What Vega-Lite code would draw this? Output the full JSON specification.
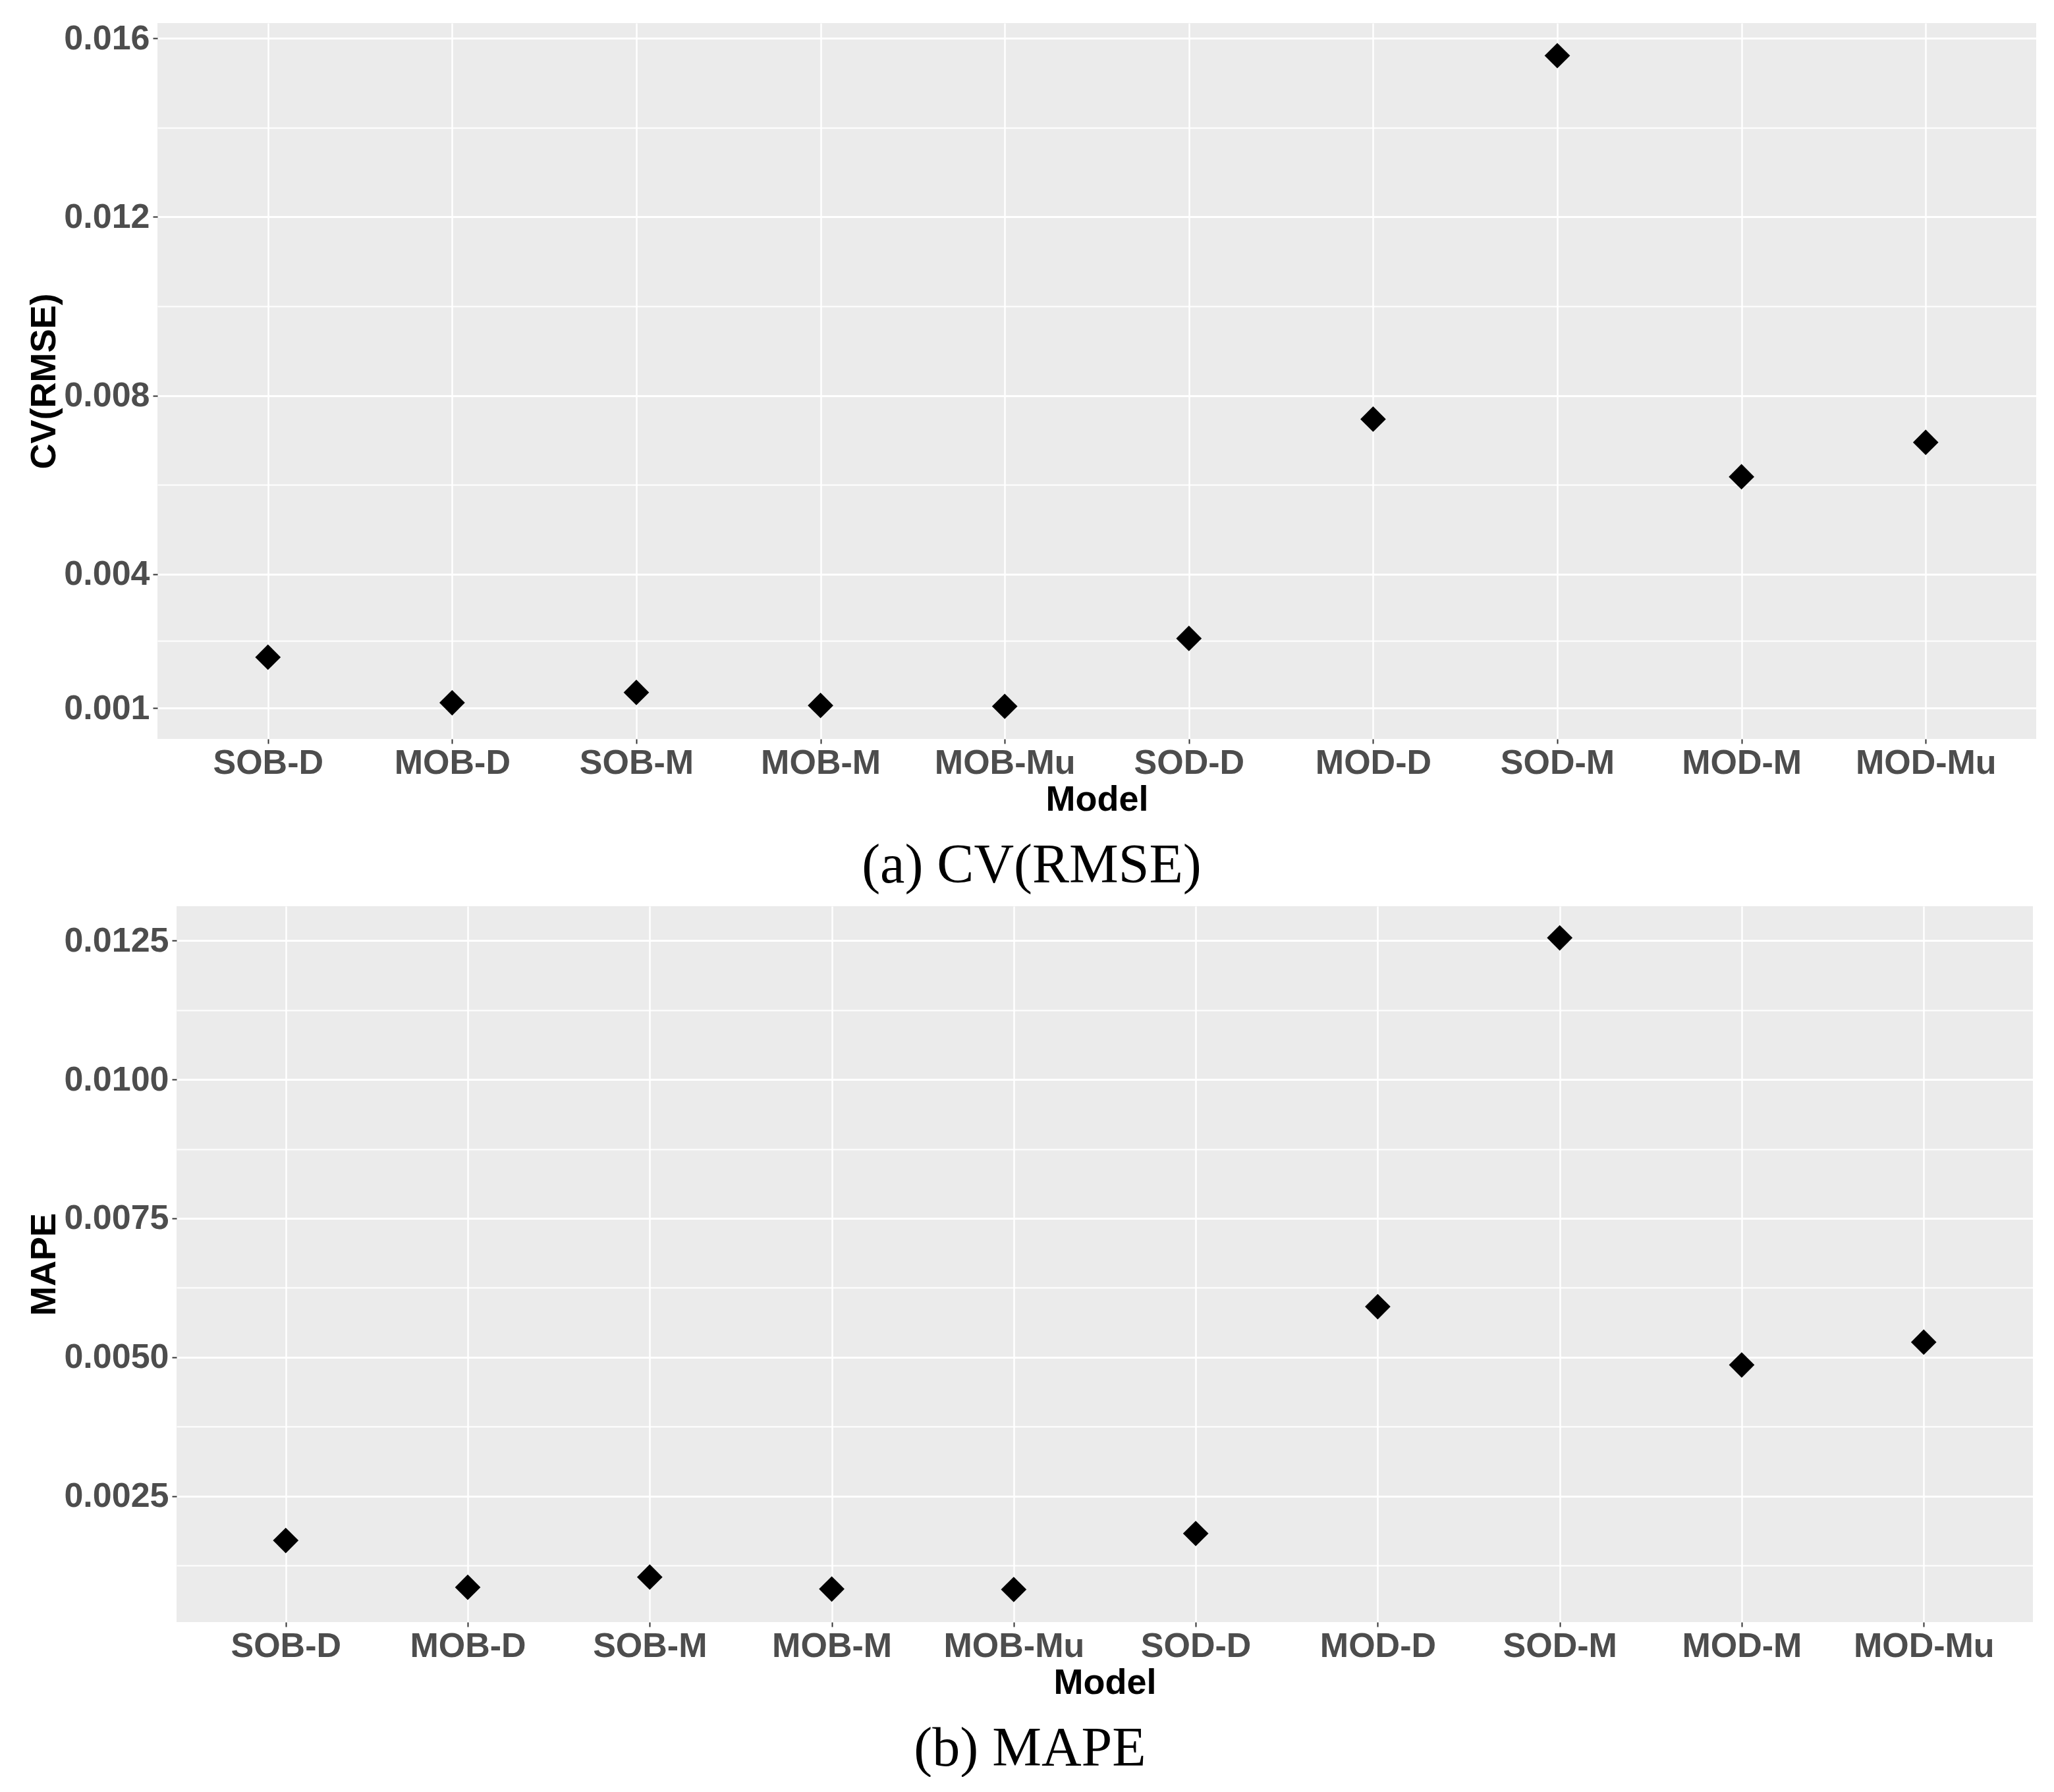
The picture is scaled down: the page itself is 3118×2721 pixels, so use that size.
{
  "$schema": "https://vega.github.io/schema/vega-lite/v6.json",
  "background": "white",
  "padding": {"left": 39, "top": 32, "right": 0, "bottom": 0},
  "config": {
    "view": {"fill": "#EBEBEB", "stroke": null},
    "axis": {
      "domain": false,
      "labelFont": "Liberation Sans",
      "labelFontWeight": "bold",
      "labelFontSize": 52,
      "labelColor": "#4D4D4D",
      "labelLimit": 1000,
      "titleFont": "Liberation Sans",
      "titleFontWeight": "bold",
      "titleFontSize": 54,
      "titleColor": "#000000",
      "tickColor": "#333333",
      "tickSize": 7,
      "tickWidth": 2,
      "grid": true,
      "gridColor": "#FFFFFF",
      "gridOpacity": 1,
      "labelOverlap": false,
      "labelFlush": false
    },
    "axisX": {"labelPadding": 4, "titlePadding": 3, "labelAngle": 0, "gridWidth": 2.5},
    "axisY": {"labelPadding": 5, "titlePadding": 2},
    "title": {
      "font": "Liberation Serif",
      "fontSize": 84,
      "fontWeight": "normal",
      "color": "#000000",
      "orient": "bottom",
      "anchor": "middle",
      "frame": "bounds",
      "offset": 33
    }
  },
  "datasets": {
    "cv": [
      {"Model": "SOB-D", "value": 0.00214},
      {"Model": "MOB-D", "value": 0.00112},
      {"Model": "SOB-M", "value": 0.00135},
      {"Model": "MOB-M", "value": 0.00106},
      {"Model": "MOB-Mu", "value": 0.00104},
      {"Model": "SOD-D", "value": 0.00256},
      {"Model": "MOD-D", "value": 0.00747},
      {"Model": "SOD-M", "value": 0.01561},
      {"Model": "MOD-M", "value": 0.00618},
      {"Model": "MOD-Mu", "value": 0.00695}
    ],
    "mape": [
      {"Model": "SOB-D", "value": 0.0017},
      {"Model": "MOB-D", "value": 0.000857},
      {"Model": "SOB-M", "value": 0.00104},
      {"Model": "MOB-M", "value": 0.000825},
      {"Model": "MOB-Mu", "value": 0.000817},
      {"Model": "SOD-D", "value": 0.001825},
      {"Model": "MOD-D", "value": 0.00591},
      {"Model": "SOD-M", "value": 0.01255},
      {"Model": "MOD-M", "value": 0.00486},
      {"Model": "MOD-Mu", "value": 0.00527}
    ],
    "empty": []
  },
  "spacing": 19,
  "bounds": "full",
  "vconcat": [
    {
      "spacing": 0,
      "hconcat": [
        {
          "width": 1,
          "height": 1,
          "view": {"fill": null, "stroke": null},
          "data": {"name": "empty"},
          "mark": "point"
        },
        {
          "width": 2852,
          "height": 1087,
          "data": {"name": "cv"},
          "title": {"text": "(a) CV(RMSE)"},
          "mark": {"type": "point", "shape": "diamond", "filled": true, "color": "#000000", "opacity": 1, "size": 1500},
          "encoding": {
            "x": {
              "field": "Model",
              "type": "nominal",
              "sort": null,
              "scale": {"type": "point", "padding": 0.6},
              "axis": {"title": "Model"}
            },
            "y": {
              "field": "value",
              "type": "quantitative",
              "scale": {"domain": [0.00031, 0.01634], "nice": false, "zero": false},
              "axis": {
                "title": "CV(RMSE)",
                "values": [0.001, 0.0025, 0.004, 0.006, 0.008, 0.01, 0.012, 0.014, 0.016],
                "labelExpr": "indexof([0.001, 0.004, 0.008, 0.012, 0.016], datum.value) >= 0 ? format(datum.value, '.3f') : ''",
                "tickOpacity": {"condition": {"test": "indexof([0.001, 0.004, 0.008, 0.012, 0.016], datum.value) >= 0", "value": 1}, "value": 0},
                "gridWidth": {"condition": {"test": "indexof([0.001, 0.004, 0.008, 0.012, 0.016], datum.value) >= 0", "value": 3}, "value": 1.8}
              }
            }
          }
        }
      ]
    },
    {
      "spacing": 0,
      "hconcat": [
        {
          "width": 1,
          "height": 1,
          "view": {"fill": null, "stroke": null},
          "data": {"name": "empty"},
          "mark": "point"
        },
        {
          "width": 2818,
          "height": 1087,
          "data": {"name": "mape"},
          "title": {"text": "(b) MAPE"},
          "mark": {"type": "point", "shape": "diamond", "filled": true, "color": "#000000", "opacity": 1, "size": 1500},
          "encoding": {
            "x": {
              "field": "Model",
              "type": "nominal",
              "sort": null,
              "scale": {"type": "point", "padding": 0.6},
              "axis": {"title": "Model"}
            },
            "y": {
              "field": "value",
              "type": "quantitative",
              "scale": {"domain": [0.00023, 0.01312], "nice": false, "zero": false},
              "axis": {
                "title": "MAPE",
                "values": [0.00125, 0.0025, 0.00375, 0.005, 0.00625, 0.0075, 0.00875, 0.01, 0.01125, 0.0125],
                "labelExpr": "indexof([0.0025, 0.005, 0.0075, 0.01, 0.0125], datum.value) >= 0 ? format(datum.value, '.4f') : ''",
                "tickOpacity": {"condition": {"test": "indexof([0.0025, 0.005, 0.0075, 0.01, 0.0125], datum.value) >= 0", "value": 1}, "value": 0},
                "gridWidth": {"condition": {"test": "indexof([0.0025, 0.005, 0.0075, 0.01, 0.0125], datum.value) >= 0", "value": 3}, "value": 1.8}
              }
            }
          }
        }
      ]
    }
  ]
}
